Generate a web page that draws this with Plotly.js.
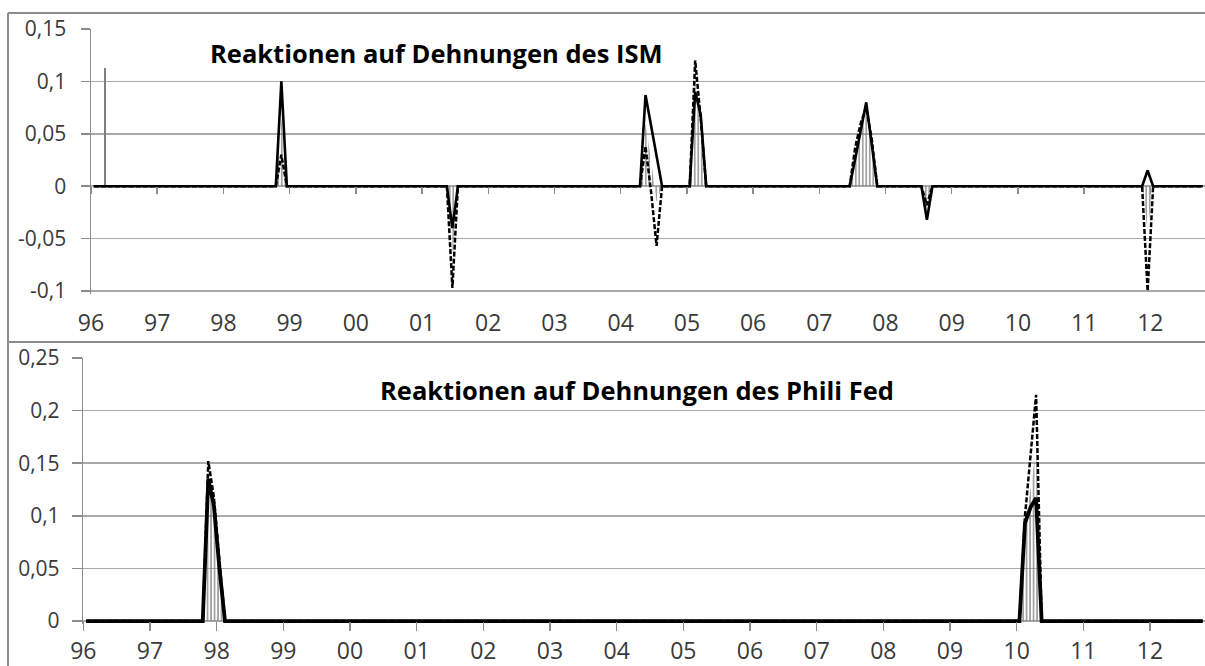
<!DOCTYPE html>
<html>
<head>
<meta charset="utf-8">
<script src="https://cdn.plot.ly/plotly-3.0.1.min.js"></script>
<style>html,body{margin:0;padding:0;background:#fff;}#chart{width:1205px;height:666px;}</style>
</head>
<body>
<div id="chart"></div>
<script>
// ---- Data (monthly, Jan 1996 = index 0) ----
const monthCount = 202;
const yearTickLabels = ['96','97','98','99','00','01','02','03','04','05','06','07','08','09','10','11','12'];

// Top panel: Reaktionen auf Dehnungen des ISM (non-zero months only)
const ismMonths      = [34,    65,     100,   101,    102,    109,   110,   138,   139,   140,   141,   151,    191];
const ismSolid       = [0.100, -0.040, 0.087, 0.058,  0.029,  0.090, 0.068, 0.026, 0.053, 0.080, 0.040, -0.032, 0.015];
const ismDashed      = [0.030, -0.097, 0.038, -0.005, -0.057, 0.120, 0.065, 0.037, 0.060, 0.075, 0.045, -0.018, -0.100];
const ismGray        = [0.065, -0.065, 0.060, 0.025,  -0.015, 0.105, 0.065, 0.030, 0.057, 0.077, 0.042, -0.025, -0.043];
const ismSpikeMonths = [2];
const ismSpikeValues = [0.113];

// Bottom panel: Reaktionen auf Dehnungen des Phili Fed
const phiMonths = [22,    23,    24,    169,   170,   171];
const phiSolid  = [0.135, 0.110, 0.050, 0.093, 0.108, 0.117];
const phiDashed = [0.152, 0.118, 0.058, 0.100, 0.155, 0.215];
const phiGray   = [0.140, 0.112, 0.052, 0.095, 0.125, 0.165];

const ismYTicks = [-0.1, -0.05, 0, 0.05, 0.1, 0.15];
const ismYText  = ['-0,1', '-0,05', '0', '0,05', '0,1', '0,15'];
const phiYTicks = [0, 0.05, 0.1, 0.15, 0.2, 0.25];
const phiYText  = ['0', '0,05', '0,1', '0,15', '0,2', '0,25'];

// ---- build full series ----
function fullSeries(months, vals) {
  const a = new Array(monthCount).fill(0);
  months.forEach((m, i) => { a[m] = vals[i]; });
  return a;
}
const xs = Array.from({length: monthCount}, (_, i) => i);
const tickVals = yearTickLabels.map((_, k) => k * 12 - 0.5);

const W = 1205, H = 666;
const fx = p => p / W;
const fy = p => 1 - p / H;

const FONT = 'Open Sans, Liberation Sans, sans-serif';
const gridCol = '#a9a9a9';
const axCol = '#8c8c8c';

function panel(xa, ya, months, solid, dashed, gray, solidW) {
  return [
    {x: xs, y: fullSeries(months, gray), xaxis: xa, yaxis: ya, type: 'scatter', mode: 'lines',
     line: {width: 0, color: 'rgba(0,0,0,0)'}, fill: 'tozeroy', fillcolor: 'rgba(0,0,0,0)',
     fillpattern: {shape: '|', size: 3.5, solidity: 0.35, fgcolor: '#7a7a7a', bgcolor: 'rgba(0,0,0,0)'},
     hoverinfo: 'skip'},
    {x: xs, y: fullSeries(months, solid), xaxis: xa, yaxis: ya, type: 'scatter', mode: 'lines',
     line: {width: solidW, color: '#000'}},
    {x: xs, y: fullSeries(months, dashed), xaxis: xa, yaxis: ya, type: 'scatter', mode: 'lines',
     line: {width: 2.5, color: '#000', dash: '5px,2px'}}
  ];
}

const traces = [
  {x: ismSpikeMonths, y: ismSpikeValues, xaxis: 'x', yaxis: 'y', type: 'bar', width: 0.3,
   marker: {color: '#7f7f7f', line: {width: 0}}},
  ...panel('x', 'y', ismMonths, ismSolid, ismDashed, ismGray, 2.6),
  ...panel('x2', 'y2', phiMonths, phiSolid, phiDashed, phiGray, 3.8)
];

const xCommon = {
  range: [-0.5, 201.4], tickvals: tickVals, ticktext: yearTickLabels,
  ticks: 'outside', tickcolor: axCol, tickwidth: 1.5,
  showgrid: false, zeroline: false, showline: false,
  tickfont: {family: FONT, size: 23, color: '#3a3a3a'}, anchor: 'free'
};
const yCommon = {
  ticks: 'outside', tickcolor: axCol, tickwidth: 1.5,
  showline: true, linecolor: axCol, linewidth: 1.5,
  showgrid: true, gridcolor: gridCol, gridwidth: 1.5, zeroline: false,
  tickfont: {family: FONT, size: 21, color: '#3a3a3a'}
};

const layout = {
  width: W, height: H, margin: {l: 0, r: 0, t: 0, b: 0},
  paper_bgcolor: '#fff', plot_bgcolor: '#fff', showlegend: false, bargap: 0,
  xaxis: Object.assign({}, xCommon, {domain: [fx(91), 1], position: fy(186), ticklen: 7, ticklabelstandoff: 109}),
  yaxis: Object.assign({}, yCommon, {domain: [fy(293.6), fy(29)], range: [-0.1025, 0.15], anchor: 'x',
           tickvals: ismYTicks, ticktext: ismYText, ticklen: 9, ticklabelstandoff: 10}),
  xaxis2: Object.assign({}, xCommon, {domain: [fx(83.3), 1], position: fy(621), ticklen: 9, ticklabelstandoff: 0}),
  yaxis2: Object.assign({}, yCommon, {domain: [fy(624.2), fy(358)], range: [-0.003, 0.25], anchor: 'x2',
           tickvals: phiYTicks, ticktext: phiYText, ticklen: 10, ticklabelstandoff: 8}),
  annotations: [
    {text: '<b>Reaktionen auf Dehnungen des ISM</b>', xref: 'paper', yref: 'paper',
     x: fx(436), y: fy(53), xanchor: 'center', yanchor: 'middle', showarrow: false,
     font: {family: FONT, size: 25.5, color: '#000'}},
    {text: '<b>Reaktionen auf Dehnungen des Phili Fed</b>', xref: 'paper', yref: 'paper',
     x: fx(637), y: fy(390), xanchor: 'center', yanchor: 'middle', showarrow: false,
     font: {family: FONT, size: 25.5, color: '#000'}}
  ],
  shapes: [
    {type: 'line', xref: 'paper', yref: 'paper', x0: fx(8), x1: 1, y0: fy(13), y1: fy(13), line: {color: '#8c8c8c', width: 2}},
    {type: 'line', xref: 'paper', yref: 'paper', x0: fx(8), x1: 1, y0: fy(342), y1: fy(342), line: {color: '#8c8c8c', width: 2}},
    {type: 'line', xref: 'paper', yref: 'paper', x0: fx(8), x1: fx(8), y0: 0, y1: fy(13), line: {color: '#8c8c8c', width: 2}}
  ]
};

Plotly.newPlot('chart', traces, layout, {staticPlot: true, displayModeBar: false});
</script>
</body>
</html>
